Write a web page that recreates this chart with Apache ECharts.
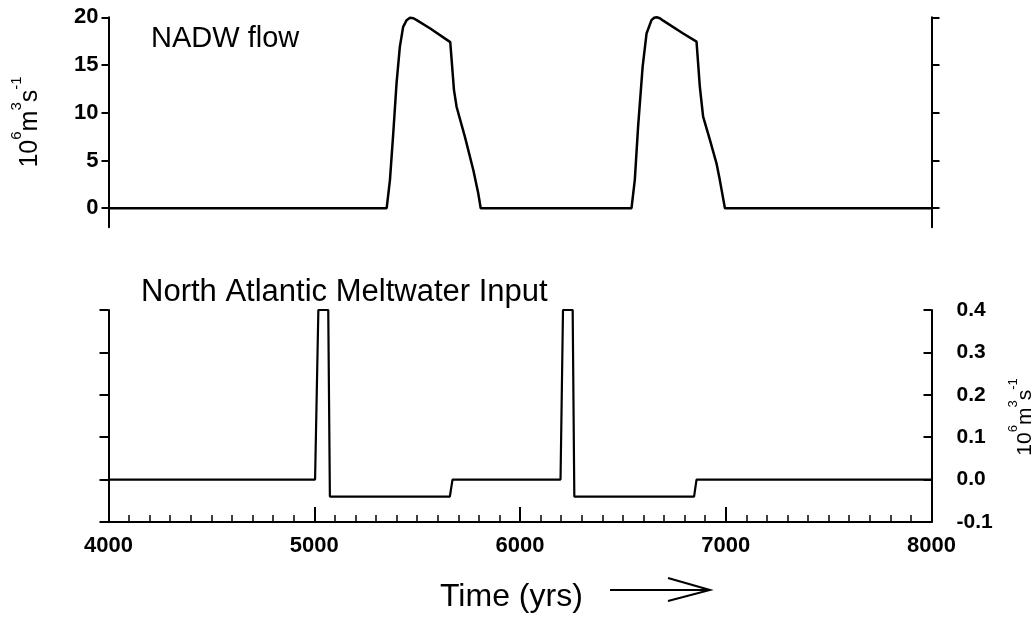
<!DOCTYPE html>
<html><head><meta charset="utf-8">
<script src="https://cdn.jsdelivr.net/npm/echarts@6/dist/echarts.min.js"></script>
<style>html,body{margin:0;padding:0;background:#fff}#c{width:1034px;height:621px}</style>
</head><body><div id="c"></div>
<script>
// NADW flow (10^6 m^3/s) vs time (yrs)
const nadwYears = [4000, 5352, 5368, 5384, 5400, 5416, 5432, 5449, 5465, 5482, 5498, 5562, 5661, 5679, 5692, 5732, 5773, 5797, 5809,
                   6542, 6558, 6574, 6596, 6615, 6639, 6652, 6664, 6680, 6696, 6793, 6858, 6874, 6890, 6923, 6955, 6971, 6996, 8000];
const nadwFlow  = [0, 0, 2.97, 7.85, 13.1, 16.9, 19.0, 19.7, 19.95, 19.9, 19.7, 18.85, 17.4, 12.4, 10.6, 7.5, 4.0, 1.57, 0,
                   0, 2.97, 8.55, 14.8, 18.3, 19.7, 19.95, 20.0, 19.9, 19.65, 18.3, 17.45, 12.74, 9.6, 7.15, 4.7, 2.97, 0, 0];
// North Atlantic meltwater input (10^6 m^3/s)
const meltYears = [4000, 5004, 5020, 5068, 5076, 5659, 5672, 6197, 6209, 6256, 6264, 6846, 6858, 8000];
const meltInput = [0, 0, 0.4, 0.4, -0.04, -0.04, 0, 0, 0.4, 0.4, -0.04, -0.04, 0, 0];
// tick labels
const timeTicks = [4000, 5000, 6000, 7000, 8000];
const nadwTicks = [0, 5, 10, 15, 20];
const meltTicks = [-0.1, 0, 0.1, 0.2, 0.3, 0.4];

const FONT = "'Liberation Sans', Arial, Helvetica, sans-serif";
const nadwData = nadwYears.map((y, i) => [y, nadwFlow[i]]);
const meltData = meltYears.map((y, i) => [y, meltInput[i]]);

const axLine = { show: true, onZero: false, lineStyle: { color: '#000', width: 2 } };
const unitRich = {
  n: { fontSize: 25, fontFamily: FONT, color: '#000', lineHeight: 34, verticalAlign: 'bottom' },
  s: { fontSize: 15, fontFamily: FONT, color: '#000', lineHeight: 15, verticalAlign: 'top' }
};
const unitRichR = {
  n: { fontSize: 21, fontFamily: FONT, color: '#000', lineHeight: 29, verticalAlign: 'bottom' },
  s: { fontSize: 13, fontFamily: FONT, color: '#000', lineHeight: 13, verticalAlign: 'top' }
};
const unitText = '{n|10}{s|6}{n|m}{s|3}{n|s}{s|-1}';
const lbl = { fontSize: 22, fontWeight: 'bold', fontFamily: FONT, color: '#000' };
const lblR = { fontSize: 21, fontWeight: 'bold', fontFamily: FONT, color: '#000' };

const chart = echarts.init(document.getElementById('c'), null, { renderer: 'canvas' });
chart.setOption({
  backgroundColor: '#fff',
  animation: false,
  grid: [
    { left: 108.5, right: 102.5, top: 17.3, height: 210 },
    { left: 108.5, right: 102.5, top: 310, height: 212 }
  ],
  xAxis: [
    { type: 'value', gridIndex: 0, min: 4000, max: 8000, show: false },
    { type: 'value', gridIndex: 1, min: 4000, max: 8000, interval: 1000,
      axisLine: axLine,
      axisTick: { show: true, inside: true, length: 15, lineStyle: { color: '#000', width: 2 } },
      minorTick: { show: true, splitNumber: 10, length: 7, lineStyle: { color: '#000', width: 1.5 } },
      axisLabel: Object.assign({ show: true, margin: 13, customValues: timeTicks, formatter: v => String(v) }, lbl),
      splitLine: { show: false }
    }
  ],
  yAxis: [
    { type: 'value', gridIndex: 0, position: 'left', min: -2, max: 20,
      axisLine: axLine,
      axisTick: { show: true, inside: false, length: 7, customValues: nadwTicks, lineStyle: { color: '#000', width: 2 } },
      axisLabel: Object.assign({ show: true, margin: 10, customValues: nadwTicks }, lbl),
      splitLine: { show: false }
    },
    { type: 'value', gridIndex: 0, position: 'right', min: -2, max: 20,
      axisLine: axLine,
      axisTick: { show: true, inside: false, length: 8, customValues: nadwTicks, lineStyle: { color: '#000', width: 2 } },
      axisLabel: { show: false },
      splitLine: { show: false }
    },
    { type: 'value', gridIndex: 1, position: 'left', min: -0.1, max: 0.4, interval: 0.1,
      axisLine: axLine,
      axisTick: { show: true, inside: false, length: 9, lineStyle: { color: '#000', width: 2 } },
      axisLabel: { show: false },
      splitLine: { show: false }
    },
    { type: 'value', gridIndex: 1, position: 'right', min: -0.1, max: 0.4, interval: 0.1,
      axisLine: axLine,
      axisTick: { show: true, inside: true, length: 8, lineStyle: { color: '#000', width: 2 } },
      axisLabel: Object.assign({ show: true, margin: 25, customValues: meltTicks,
        formatter: v => (Math.abs(v) < 1e-9 ? 0 : v).toFixed(1) }, lblR),
      splitLine: { show: false }
    }
  ],
  series: [
    { type: 'line', xAxisIndex: 0, yAxisIndex: 0, data: nadwData, showSymbol: false,
      lineStyle: { color: '#000', width: 2.5 }, smooth: false },
    { type: 'line', xAxisIndex: 1, yAxisIndex: 3, data: meltData, showSymbol: false,
      lineStyle: { color: '#000', width: 2.2 } }
  ],
  graphic: [
    { type: 'text', x: 151, y: 38.5, style: { text: 'NADW flow', fontSize: 29, fontFamily: FONT, fill: '#000', align: 'left', verticalAlign: 'middle' } },
    { type: 'text', x: 141, y: 292.5, style: { text: 'North Atlantic Meltwater Input', fontSize: 31, fontFamily: FONT, fill: '#000', align: 'left', verticalAlign: 'middle' } },
    { type: 'text', x: 440, y: 597, style: { text: 'Time (yrs)', fontSize: 32, fontFamily: FONT, fill: '#000', align: 'left', verticalAlign: 'middle' } },
    { type: 'text', x: 26, y: 122, rotation: Math.PI / 2,
      style: { text: unitText, rich: unitRich, align: 'center', verticalAlign: 'middle', fill: '#000' } },
    { type: 'text', x: 1021, y: 417, rotation: Math.PI / 2,
      style: { text: unitText, rich: unitRichR, align: 'center', verticalAlign: 'middle', fill: '#000' } },
    { type: 'line', shape: { x1: 610, y1: 590, x2: 709, y2: 590 }, style: { stroke: '#000', lineWidth: 2 } },
    { type: 'polyline', shape: { points: [[668, 578], [710, 590], [668, 601]] }, style: { stroke: '#000', lineWidth: 2, fill: null } }
  ]
});
</script>
</body></html>
